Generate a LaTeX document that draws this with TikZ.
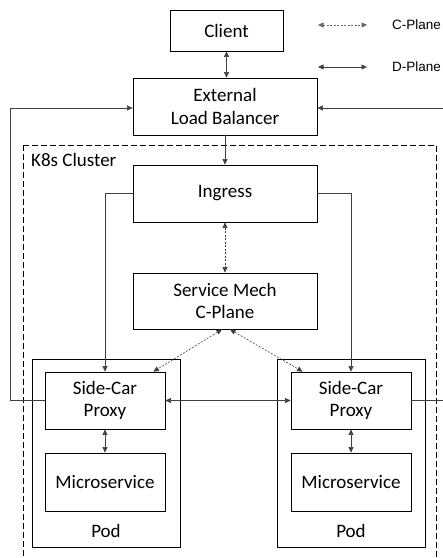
\documentclass[tikz,border=0pt]{standalone}
\usepackage{fontspec}
\setmainfont{Carlito}
\newfontfamily\legfont{Liberation Sans}
\usetikzlibrary{arrows.meta,calc}
\begin{document}
\begin{tikzpicture}[x=1pt,y=-1pt,
  box/.style={draw=black,line width=0.8pt,align=center,font=\fontsize{19}{22.5}\selectfont,inner sep=0pt},
  conn/.style={draw=black!75,line width=0.6pt},
  tip/.style={-{Triangle[length=5.5pt,width=5pt]}},
  bitip/.style={{Triangle[length=5.5pt,width=5pt]}-{Triangle[length=5.5pt,width=5pt]}},
  cdash/.style={dash pattern=on 2pt off 1.5pt},
  legtext/.style={font=\legfont\fontsize{13.5}{15}\selectfont,anchor=west,inner sep=0pt}]
\useasboundingbox (0,0) rectangle (443,558);
% cluster
\draw[line width=0.8pt,dash pattern=on 6pt off 3pt] (23,145) -- (436,145) -- (436,570) (23,145) -- (23,570);
\node[anchor=west,font=\fontsize{19}{22}\selectfont,inner sep=0pt] (k8s) at (31,160) {K8s Cluster};
% nodes
\node[box,minimum width=113pt,minimum height=41pt] (client) at (226.5,30.5) {Client};
\node[box,minimum width=184pt,minimum height=57pt] (elb) at (225,106.5) {External\\Load Balancer};
\node[box,minimum width=184pt,minimum height=57pt] (ing) at (225,193.5) {Ingress};
\node[box,minimum width=184pt,minimum height=56pt] (smc) at (225,301) {Service Mech\\C-Plane};
\node[box,minimum width=148pt,minimum height=188pt] (lpod) at (106,453) {};
\node[box,minimum width=148pt,minimum height=188pt] (rpod) at (351,453) {};
\node[box,minimum width=120pt,minimum height=57pt,fill=white] (lsc) at (105,400.5) {Side-Car\\Proxy};
\node[box,minimum width=120pt,minimum height=57pt,fill=white] (rsc) at (351,400.5) {Side-Car\\Proxy};
\node[box,minimum width=120pt,minimum height=58pt] (lms) at (105,482) {Microservice};
\node[box,minimum width=120pt,minimum height=58pt] (rms) at (351,482) {Microservice};
\node[font=\fontsize{19}{22}\selectfont,inner sep=0pt] (lpl) at (106,531) {Pod};
\node[font=\fontsize{19}{22}\selectfont,inner sep=0pt] (rpl) at (351,531) {Pod};
% legend
\coordinate (c1) at (318,25); \coordinate (c2) at (367,25);
\coordinate (d1) at (318,67); \coordinate (d2) at (367,67);
\draw[conn,bitip,cdash,draw=black!60] (c1) -- (c2);
\draw[conn,bitip] (d1) -- (d2);
\node[legtext] (cl) at (392,25) {C-Plane};
\node[legtext] (dl) at (392,67) {D-Plane};
% connectors
\draw[conn,bitip] (client) -- (client |- elb.north);
\draw[conn,tip] (elb) -- (ing);
\draw[conn,bitip,cdash] (ing) -- (smc);
\draw[conn,tip] (ing.west) -| (lsc.north);
\draw[conn,tip] (ing.east) -| (rsc.north);
\draw[conn,cdash,bitip] ($(smc.south)+(-3,0)$) -- ($(lsc.north east)+(-12,0)$);
\draw[conn,cdash,bitip] ($(smc.south)+(5,0)$) -- ($(rsc.north west)+(12,0)$);
\draw[conn,bitip] (lsc) -- (rsc);
\draw[conn,bitip] (lsc) -- (lms);
\draw[conn,bitip] (rsc) -- (rms);
\coordinate (L) at (10,108);
\draw[conn,tip] (lsc.west) -| (L) -- (L -| elb.west);
\coordinate (R1) at (443,400.5);
\draw[conn] (rsc.east) -- (R1);
\coordinate (R2) at (443,108);
\draw[conn,tip] (R2) -- (R2 -| elb.east);
\end{tikzpicture}
\end{document}
